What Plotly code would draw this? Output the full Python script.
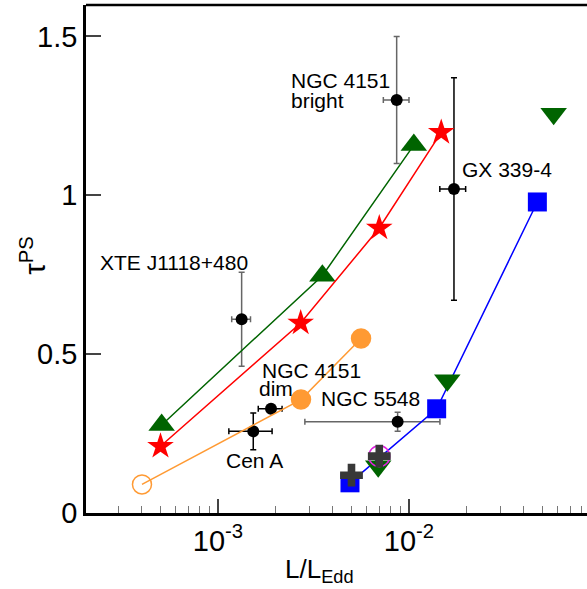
import plotly.graph_objects as go

# ---------------- data ----------------
up_x = [5.07e-4, 3.52e-3, 1.06e-2]
up_y = [0.277, 0.747, 1.158]

star_x = [5.0e-4, 2.71e-3, 6.99e-3, 1.475e-2]
star_y = [0.21, 0.598, 0.897, 1.198]

orange_x = [4.0e-4, 2.72e-3, 5.61e-3]
orange_y = [0.09, 0.357, 0.549]

sq_x = [4.91e-3, 1.396e-2, 4.70e-2]
sq_y = [0.095, 0.328, 0.979]

down_x = [6.9e-3, 1.587e-2, 5.72e-2]
down_y = [0.147, 0.418, 1.257]

mag_x = [6.99e-3]
mag_y = [0.179]

cross_x = [5.0e-3, 6.99e-3]
cross_y = [0.119, 0.179]

# observed sources: black error-bar group and grey error-bar group
obsA_name = ["Cen A", "NGC 4151 dim", "GX 339-4"]
obsA_x = [1.53e-3, 1.895e-3, 1.72e-2]
obsA_xm = [0.39e-3, 0.27e-3, 0.27e-2]
obsA_xp = [0.39e-3, 0.27e-3, 0.26e-2]
obsA_y = [0.257, 0.328, 1.02]
obsA_ye = [0.058, 0.0, 0.35]

obsB_name = ["XTE J1118+480", "NGC 5548", "NGC 4151 bright"]
obsB_x = [1.33e-3, 8.72e-3, 8.62e-3]
obsB_xm = [0.15e-3, 5.87e-3, 1.28e-3]
obsB_xp = [0.15e-3, 5.80e-3, 1.38e-3]
obsB_y = [0.61, 0.287, 1.30]
obsB_ye = [0.148, 0.03, 0.2]

xtick_vals = [1e-3, 1e-2]
xtick_text = ["10<sup>-3</sup>", "10<sup>-2</sup>"]
xminor_vals = [3e-4, 4e-4, 5e-4, 6e-4, 7e-4, 8e-4, 9e-4,
               2e-3, 3e-3, 4e-3, 5e-3, 6e-3, 7e-3, 8e-3, 9e-3,
               2e-2, 3e-2, 4e-2, 5e-2, 6e-2, 7e-2, 8e-2]
ytick_vals = [0, 0.5, 1, 1.5]
ytick_text = ["0", "0.5", "1", "1.5"]

FONT = "Liberation Sans, Arial, sans-serif"

fig = go.Figure()

# black points
fig.add_trace(go.Scatter(
    x=obsB_x, y=obsB_y, mode="markers",
    marker=dict(color="black", size=12, symbol="circle"),
    error_x=dict(type="data", symmetric=False, array=obsB_xp, arrayminus=obsB_xm,
                 color="#666666", thickness=1.5, width=3),
    error_y=dict(type="data", array=obsB_ye, color="#666666", thickness=1.5, width=3),
    showlegend=False))
fig.add_trace(go.Scatter(
    x=obsA_x, y=obsA_y, mode="markers",
    marker=dict(color="black", size=12, symbol="circle"),
    error_x=dict(type="data", symmetric=False, array=obsA_xp, arrayminus=obsA_xm,
                 color="black", thickness=1.5, width=3),
    error_y=dict(type="data", array=obsA_ye, color="black", thickness=1.5, width=3),
    showlegend=False))

# model curves
fig.add_trace(go.Scatter(x=up_x, y=up_y, mode="lines+markers",
                         line=dict(color="#006400", width=1.5),
                         marker=dict(symbol="triangle-up", size=23, color="#006400"),
                         showlegend=False))
fig.add_trace(go.Scatter(x=star_x, y=star_y, mode="lines+markers",
                         line=dict(color="#ff0000", width=1.5),
                         marker=dict(symbol="star", size=20, color="#ff0000"),
                         showlegend=False))
fig.add_trace(go.Scatter(x=orange_x, y=orange_y, mode="lines+markers",
                         line=dict(color="#ff9a33", width=1.5),
                         marker=dict(symbol=["circle-open", "circle", "circle"], size=19,
                                     color="#ff9a33", line=dict(color="#ff9a33", width=1.5)),
                         showlegend=False))
fig.add_trace(go.Scatter(x=sq_x, y=sq_y, mode="lines+markers",
                         line=dict(color="#0000ff", width=1.5),
                         marker=dict(symbol="square", size=19, color="#0000ff"),
                         showlegend=False))
fig.add_trace(go.Scatter(x=down_x, y=down_y, mode="markers",
                         marker=dict(symbol="triangle-down", size=23, color="#006400"),
                         showlegend=False))
fig.add_trace(go.Scatter(x=mag_x, y=mag_y, mode="markers",
                         marker=dict(symbol="circle-open", size=21, color="#e020e0",
                                     line=dict(color="#e020e0", width=1.5)),
                         showlegend=False))
fig.add_trace(go.Scatter(x=cross_x, y=cross_y, mode="markers",
                         marker=dict(symbol="cross", size=19, color="#383838"),
                         showlegend=False))

L, R, T, B = 86, 587, 5, 513.5
W, H = 587, 589


def px(x):
    return (x - L) / (R - L)


def py(y):
    return (B - y) / (B - T)


labels = [
    ("XTE J1118+480", 98, 263),
    ("NGC 4151", 289, 81),
    ("bright", 289, 101),
    ("GX 339-4", 460, 170),
    ("NGC 4151", 260, 371),
    ("dim", 257, 389),
    ("NGC 5548", 319, 399),
    ("Cen A", 224, 461),
]
for txt, xx, yy in labels:
    fig.add_annotation(text=txt, xref="paper", yref="paper", x=px(xx), y=py(yy),
                       xanchor="left", yanchor="middle", showarrow=False,
                       font=dict(family=FONT, size=21, color="black"))

# axis titles
fig.add_annotation(text="L/L<sub>Edd</sub>", xref="paper", yref="paper",
                   x=px(283), y=py(571), xanchor="left", yanchor="middle",
                   showarrow=False, font=dict(family=FONT, size=26, color="black"))
fig.add_annotation(text="τ<sup>PS</sup>", xref="paper", yref="paper",
                   x=px(33), y=py(256), xanchor="center", yanchor="middle", textangle=-90,
                   showarrow=False, font=dict(family=FONT, size=29, color="black"))

# top frame line
fig.add_shape(type="line", xref="paper", yref="paper", x0=0, x1=1, y0=1, y1=1,
              line=dict(color="black", width=2.5))

fig.update_xaxes(type="log", range=[-3.691, -1.068],
                 tickvals=xtick_vals, ticktext=xtick_text,
                 ticks="inside", ticklen=14, tickwidth=1.5, tickcolor="#444444",
                 minor=dict(tickvals=xminor_vals, ticks="inside", ticklen=7,
                            tickwidth=1.2, tickcolor="#777777", showgrid=False),
                 showline=True, linecolor="black", linewidth=2.5,
                 showgrid=False, zeroline=False,
                 tickfont=dict(family=FONT, size=29, color="black"))
fig.update_yaxes(range=[0, 1.599],
                 tickvals=ytick_vals, ticktext=ytick_text,
                 ticks="inside", ticklen=15, tickwidth=1.5, tickcolor="#444444",
                 showline=True, linecolor="black", linewidth=2.5,
                 showgrid=False, zeroline=False,
                 tickfont=dict(family=FONT, size=29, color="black"))

fig.update_layout(width=W, height=H,
                  margin=dict(l=L, r=W - R, t=T, b=H - B),
                  plot_bgcolor="white", paper_bgcolor="white")

fig.write_html("out.html")
